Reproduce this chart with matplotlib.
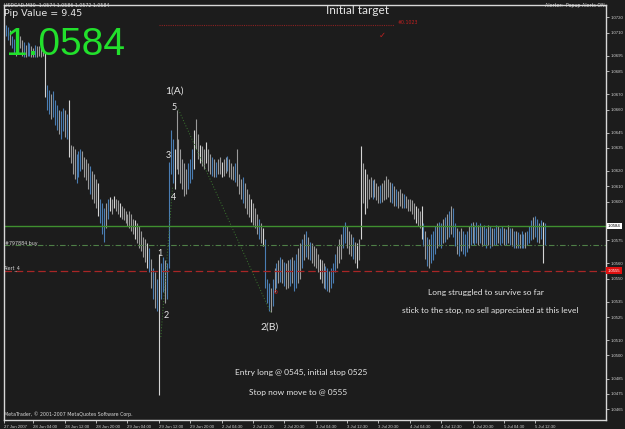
import matplotlib
matplotlib.use("Agg")
import matplotlib.pyplot as plt
import matplotlib.transforms as mtransforms

# USDCAD M30, 27 Jun 21:00 -> 5 Jul 2007 (bar highs / lows)
highs = [
    1.0715, 1.0714, 1.0712, 1.0708, 1.0706, 1.0705, 1.0706, 1.0708, 1.0705, 1.0704,
    1.0702, 1.0704, 1.0703, 1.0701, 1.0700, 1.0702, 1.0701, 1.0701, 1.0700, 1.0699,
    1.0697, 1.0676, 1.0673, 1.0670, 1.0672, 1.0666, 1.0663, 1.0660, 1.0659, 1.0661,
    1.0660, 1.0657, 1.0666, 1.0637, 1.0636, 1.0634, 1.0631, 1.0633, 1.0634, 1.0633,
    1.0629, 1.0628, 1.0625, 1.0623, 1.0620, 1.0618, 1.0615, 1.0612, 1.0602, 1.0599,
    1.0596, 1.0599, 1.0602, 1.0603, 1.0602, 1.0604, 1.0602, 1.0601, 1.0599, 1.0597,
    1.0596, 1.0594, 1.0592, 1.0594, 1.0592, 1.0589, 1.0588, 1.0586, 1.0584, 1.0581,
    1.0577, 1.0576, 1.0573, 1.0570, 1.0563, 1.0557, 1.0554, 1.0550, 1.0566, 1.0560,
    1.0564, 1.0562, 1.0560, 1.0626, 1.0647, 1.0641, 1.0634, 1.0660, 1.0641, 1.0634,
    1.0628, 1.0625, 1.0621, 1.0625, 1.0628, 1.0634, 1.0647, 1.0654, 1.0644, 1.0637,
    1.0636, 1.0634, 1.0639, 1.0634, 1.0631, 1.0629, 1.0628, 1.0626, 1.0628, 1.0629,
    1.0626, 1.0628, 1.0629, 1.0630, 1.0628, 1.0625, 1.0623, 1.0625, 1.0634, 1.0618,
    1.0615, 1.0616, 1.0612, 1.0608, 1.0605, 1.0602, 1.0599, 1.0596, 1.0592, 1.0589,
    1.0586, 1.0583, 1.0576, 1.0550, 1.0547, 1.0544, 1.0550, 1.0557, 1.0560, 1.0562,
    1.0564, 1.0563, 1.0561, 1.0560, 1.0562, 1.0563, 1.0564, 1.0562, 1.0566, 1.0570,
    1.0573, 1.0576, 1.0579, 1.0581, 1.0577, 1.0574, 1.0573, 1.0571, 1.0570, 1.0566,
    1.0563, 1.0562, 1.0560, 1.0558, 1.0557, 1.0555, 1.0557, 1.0560, 1.0566, 1.0571,
    1.0576, 1.0579, 1.0584, 1.0587, 1.0584, 1.0581, 1.0579, 1.0577, 1.0574, 1.0573,
    1.0576, 1.0636, 1.0625, 1.0621, 1.0618, 1.0615, 1.0616, 1.0614, 1.0615, 1.0612,
    1.0610, 1.0611, 1.0612, 1.0614, 1.0617, 1.0615, 1.0613, 1.0612, 1.0610, 1.0608,
    1.0607, 1.0608, 1.0606, 1.0605, 1.0604, 1.0602, 1.0602, 1.0601, 1.0599, 1.0597,
    1.0596, 1.0594, 1.0597, 1.0586, 1.0581, 1.0577, 1.0576, 1.0579, 1.0581, 1.0584,
    1.0586, 1.0587, 1.0586, 1.0589, 1.0590, 1.0592, 1.0594, 1.0597, 1.0596, 1.0586,
    1.0583, 1.0581, 1.0583, 1.0581, 1.0579, 1.0581, 1.0584, 1.0586, 1.0587, 1.0585,
    1.0587, 1.0585, 1.0586, 1.0584, 1.0585, 1.0583, 1.0585, 1.0584, 1.0583, 1.0583,
    1.0585, 1.0584, 1.0583, 1.0584, 1.0583, 1.0582, 1.0585, 1.0583, 1.0583, 1.0581,
    1.0581, 1.0580, 1.0579, 1.0581, 1.0579, 1.0580, 1.0581, 1.0584, 1.0588, 1.0590,
    1.0591, 1.0589, 1.0586, 1.0588, 1.0587, 1.0586,
]
lows = [
    1.0708, 1.0705, 1.0702, 1.0700, 1.0697, 1.0695, 1.0699, 1.0700, 1.0695, 1.0694,
    1.0694, 1.0695, 1.0695, 1.0694, 1.0694, 1.0694, 1.0694, 1.0695, 1.0694, 1.0695,
    1.0668, 1.0660, 1.0657, 1.0654, 1.0655, 1.0650, 1.0647, 1.0644, 1.0641, 1.0646,
    1.0642, 1.0641, 1.0629, 1.0625, 1.0618, 1.0615, 1.0612, 1.0616, 1.0620, 1.0621,
    1.0616, 1.0614, 1.0608, 1.0605, 1.0602, 1.0599, 1.0596, 1.0591, 1.0586, 1.0579,
    1.0574, 1.0583, 1.0589, 1.0594, 1.0592, 1.0596, 1.0594, 1.0592, 1.0590, 1.0589,
    1.0588, 1.0586, 1.0584, 1.0583, 1.0581, 1.0579, 1.0576, 1.0573, 1.0570, 1.0568,
    1.0564, 1.0561, 1.0557, 1.0554, 1.0544, 1.0537, 1.0531, 1.0529, 1.0474, 1.0537,
    1.0541, 1.0534, 1.0537, 1.0557, 1.0618, 1.0612, 1.0608, 1.0621, 1.0618, 1.0612,
    1.0608, 1.0604, 1.0605, 1.0608, 1.0612, 1.0615, 1.0621, 1.0634, 1.0628, 1.0625,
    1.0623, 1.0621, 1.0625, 1.0620, 1.0618, 1.0617, 1.0616, 1.0616, 1.0618, 1.0618,
    1.0616, 1.0617, 1.0619, 1.0620, 1.0616, 1.0615, 1.0614, 1.0613, 1.0610, 1.0605,
    1.0602, 1.0599, 1.0596, 1.0592, 1.0590, 1.0587, 1.0585, 1.0583, 1.0579, 1.0576,
    1.0573, 1.0571, 1.0544, 1.0534, 1.0529, 1.0528, 1.0532, 1.0541, 1.0544, 1.0547,
    1.0548, 1.0547, 1.0545, 1.0543, 1.0544, 1.0545, 1.0547, 1.0542, 1.0544, 1.0547,
    1.0550, 1.0557, 1.0562, 1.0564, 1.0563, 1.0562, 1.0560, 1.0558, 1.0557, 1.0554,
    1.0550, 1.0547, 1.0544, 1.0543, 1.0542, 1.0541, 1.0544, 1.0547, 1.0554, 1.0557,
    1.0560, 1.0563, 1.0570, 1.0573, 1.0570, 1.0566, 1.0565, 1.0563, 1.0560, 1.0557,
    1.0562, 1.0576, 1.0599, 1.0592, 1.0596, 1.0602, 1.0603, 1.0602, 1.0603, 1.0601,
    1.0599, 1.0599, 1.0600, 1.0601, 1.0602, 1.0603, 1.0600, 1.0599, 1.0597, 1.0597,
    1.0596, 1.0597, 1.0596, 1.0596, 1.0596, 1.0594, 1.0594, 1.0592, 1.0589, 1.0586,
    1.0584, 1.0583, 1.0576, 1.0571, 1.0563, 1.0558, 1.0557, 1.0560, 1.0562, 1.0566,
    1.0570, 1.0571, 1.0570, 1.0573, 1.0574, 1.0576, 1.0577, 1.0579, 1.0577, 1.0571,
    1.0566, 1.0565, 1.0568, 1.0566, 1.0565, 1.0567, 1.0570, 1.0572, 1.0573, 1.0572,
    1.0573, 1.0572, 1.0573, 1.0571, 1.0572, 1.0570, 1.0572, 1.0570, 1.0571, 1.0572,
    1.0572, 1.0573, 1.0572, 1.0573, 1.0572, 1.0572, 1.0573, 1.0572, 1.0571, 1.0570,
    1.0570, 1.0570, 1.0570, 1.0570, 1.0570, 1.0570, 1.0572, 1.0573, 1.0575, 1.0576,
    1.0577, 1.0574, 1.0573, 1.0576, 1.0560, 1.0572,
]
# b = bull (blue), g = bear (grey), w = long bear bars that show up white
bar_colors = (
    "bbgbbgbggb" "gbbggbgggg" "wbbgbbbgbb" "gbwgggbbbg" "gggbgggwbb"
    "bgbwgwggwg" "ggggggwggg" "ggwbgbgbwb" "bgbbbbwggg" "gggbbbwggw"
    "ggwggbgbgg" "wggbgggbgg" "gbgggwgggb" "gwbbbgbgbg" "bgbggbgbbg"
    "gbgbgbgggg" "wggbbgbbbg" "ggbbgggbgw" "gwgwgggbgg" "gbgggggbgb"
    "gggbgggggw" "ggwbgbgbbb" "gbbgbgbgbb" "gbgbbbgbgb" "bgbgbbgbgb"
    "bgbbgbgbgb" "gbgbbgbbbg" "bbgbwb"
)

date_labels = ["27 Jun 2007", "28 Jun 04:00", "28 Jun 12:00", "28 Jun 20:00",
               "29 Jun 04:00", "29 Jun 12:00", "29 Jun 20:00", "2 Jul 04:30",
               "2 Jul 12:30", "2 Jul 20:30", "3 Jul 04:30", "3 Jul 12:30",
               "3 Jul 20:30", "4 Jul 04:30", "4 Jul 12:30", "4 Jul 20:30",
               "5 Jul 04:30", "5 Jul 12:30"]
date_pos = [-1, 14, 30, 46, 62, 78, 94, 110, 126, 142, 158, 174, 190, 206,
            222, 238, 254, 270]

price_ticks = [1.0720, 1.0710, 1.0695, 1.0685, 1.0670, 1.0660, 1.0645, 1.0635,
               1.0620, 1.0610, 1.0600, 1.0575, 1.0560, 1.0550, 1.0535, 1.0525,
               1.0510, 1.0500, 1.0485, 1.0475, 1.0465]

bid = 1.0584
buy_level = 1.0572
alert_level = 1.0555
target_level = 1.0715

BG = "#1c1c1c"
FG = "#e6e6e6"
cols = {"b": "#4a7db3", "g": "#9a9a9a", "w": "#d4d4d4"}

W, H = 625, 429
fig = plt.figure(figsize=(W / 100, H / 100), dpi=100, facecolor=BG)
ax = fig.add_axes([4 / W, 9 / H, 602 / W, 415 / H])
ax.set_facecolor(BG)


def fp(px, py):
    # pixel position -> figure fraction
    return px / W, 1 - py / H


ax.vlines(range(len(highs)), lows, highs,
          colors=[cols[c] for c in bar_colors], lw=0.8)

ax.set_xlim(-1.0, 306.1)
ax.set_ylim(1.0458, 1.0728)

# levels
ax.axhline(bid, color="#3f8f2f", lw=1.0)
ax.axhline(buy_level, color="#4f7f47", lw=0.8, ls=(0, (5, 2, 1, 2)))
ax.axhline(alert_level, color="#a82626", lw=0.9, ls=(0, (6, 3)))
ax.plot([78, 198], [target_level, target_level], color="#8a2222", lw=0.8, ls=(0, (1, 1)))

# elliott trendlines
ax.plot([88, 135], [1.0660, 1.0528], color="#3c7a30", lw=0.7, ls=(0, (1, 2)))
ax.plot([79, 85], [1.0512, 1.0610], color="#3c7a30", lw=0.7, ls=(0, (1, 2)))

# axes styling
for s in ax.spines.values():
    s.set_color("#d8d8d8")
    s.set_linewidth(1.0)
ax.yaxis.tick_right()
ax.set_yticks(price_ticks)
ax.set_yticklabels([f"{v:.4f}" for v in price_ticks], family="Liberation Sans")
ax.set_xticks(date_pos)
ax.set_xticklabels(date_labels, ha="left", family="Liberation Sans")
ax.tick_params(axis="y", colors="#cfcfcf", labelsize=3.1, length=2, pad=1, width=0.6)
ax.tick_params(axis="x", colors="#cfcfcf", labelsize=3.1, length=2, pad=1.5, width=0.6)

# price tags on the axis
yblend = mtransforms.blended_transform_factory(ax.transAxes, ax.transData)
ax.text(1.003, bid, f"{bid:.4f}", transform=yblend, fontsize=3.1, color="black",
        va="center", ha="left", family="Liberation Sans",
        bbox=dict(boxstyle="square,pad=0.25", fc="white", ec="none"))
ax.text(1.003, alert_level, f"{alert_level:.4f}", transform=yblend, fontsize=3.1,
        color="white", va="center", ha="left", family="Liberation Sans",
        bbox=dict(boxstyle="square,pad=0.35", fc="#e01010", ec="none"))

# terminal texts
tiny = dict(color="#d8d8d8", fontsize=3.4, family="DejaVu Sans", va="center")
fig.text(*fp(4, 5), "USDCAD,M30  1.0574 1.0586 1.0572 1.0584", **tiny)
fig.text(*fp(545, 5), "Alerter:  Popup Alerts ON.", **tiny)
fig.text(*fp(5, 243), "#797884 buy", **tiny)
fig.text(*fp(4, 268), "Alert_4", **tiny)
fig.text(*fp(4, 414), "MetaTrader, © 2001-2007 MetaQuotes Software Corp.", **tiny)
fig.text(*fp(4, 14), "Pip Value = 9.45", color=FG, fontsize=6.8,
         family="DejaVu Sans", va="center")
fig.text(*fp(6, 55), "1.0584", color="#22e02c", fontsize=28,
         family="Liberation Sans", va="baseline")

fig.text(*fp(398, 23), "#0.1023", color="#c02020", fontsize=3.4, va="center")
fig.text(*fp(382, 35), "✓", color="#c02020", fontsize=6, ha="center", va="center")

# annotations
note = dict(color=FG, family="Lato", ha="center", va="center")
fig.text(*fp(358, 10), "Initial target", fontsize=8.5, **note)
fig.text(*fp(174, 91), "1(A)", fontsize=7.5, **note)
fig.text(*fp(174, 107), "5", fontsize=6.5, **note)
fig.text(*fp(168, 156), "3", fontsize=6.5, **note)
fig.text(*fp(174, 197), "4", fontsize=6.5, **note)
fig.text(*fp(160, 253), "1", fontsize=6.5, **note)
fig.text(*fp(166, 316), "2", fontsize=6.5, **note)
fig.text(*fp(270, 327), "2(B)", fontsize=7.5, **note)
fig.text(*fp(276, 293), "0", color="#d02020", fontsize=4.5, ha="center", va="center")

fig.text(*fp(301, 372), "Entry long @ 0545, initial stop 0525", fontsize=6, **note)
fig.text(*fp(298, 393), "Stop now move to @ 0555", fontsize=6, **note)
fig.text(*fp(486, 293), "Long struggled to survive so far", fontsize=6, **note)
fig.text(*fp(490, 310), "stick to the stop, no sell appreciated at this level",
         fontsize=6, **note)

fig.savefig("out.png", dpi=100, facecolor=BG)
